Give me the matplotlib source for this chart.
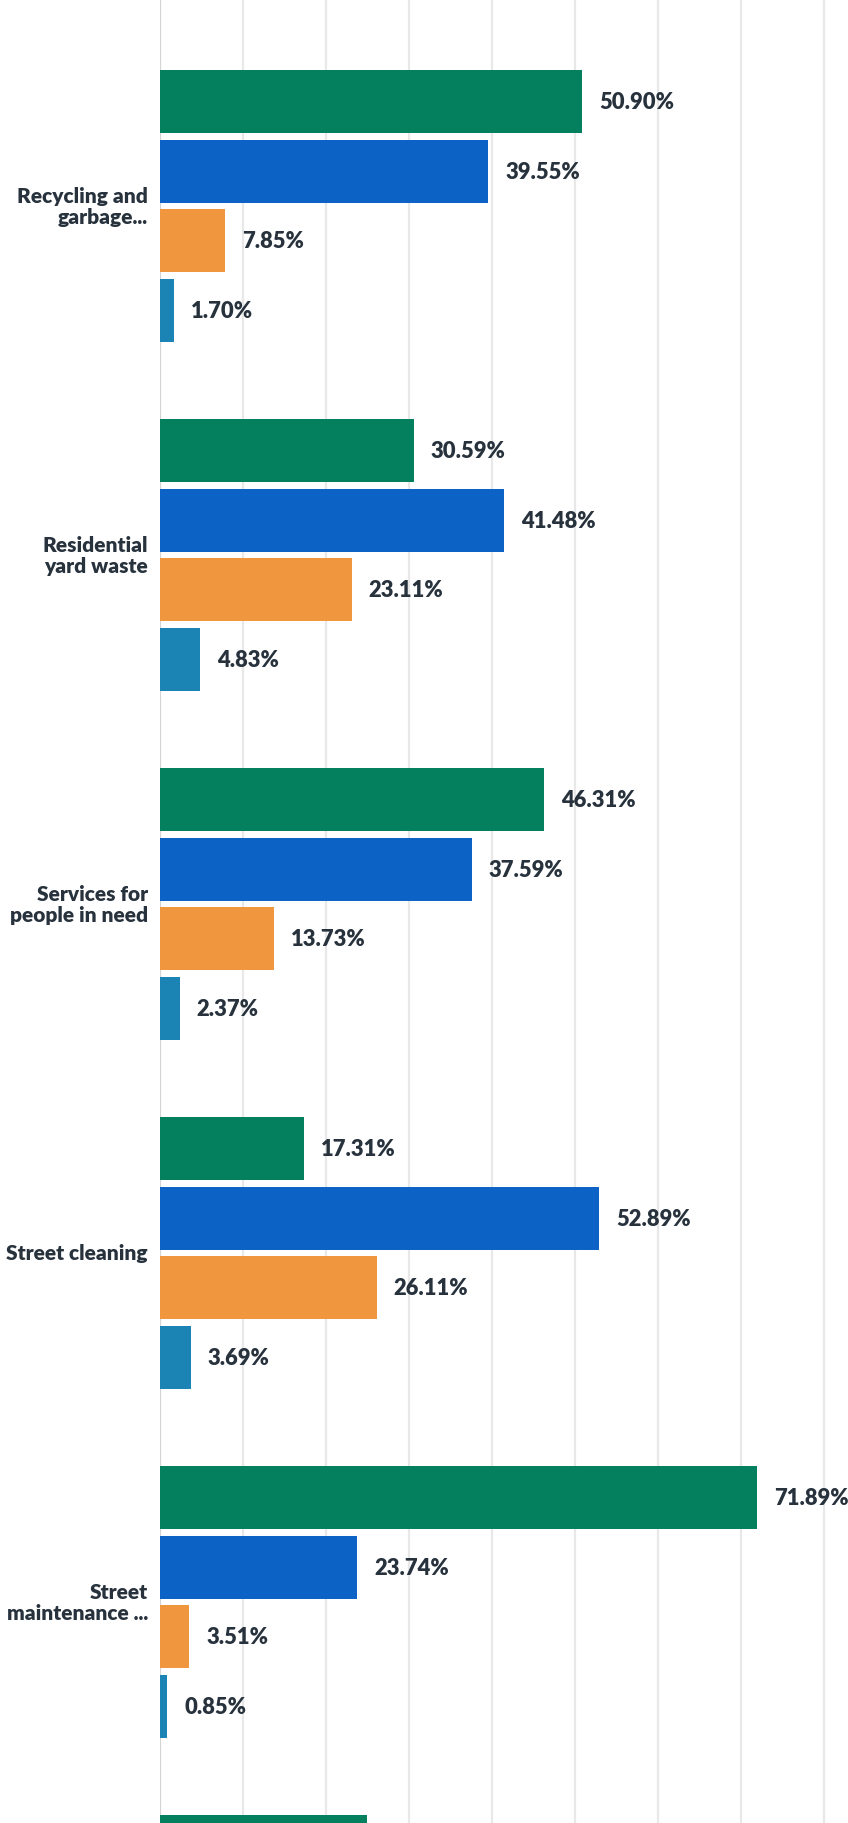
import matplotlib
matplotlib.use("Agg")
import matplotlib.pyplot as plt
import numpy as np

# Survey results: share of responses per rating, by service
categories = [
    "Recycling and\ngarbage...",
    "Residential\nyard waste",
    "Services for\npeople in need",
    "Street cleaning",
    "Street\nmaintenance ...",
    "",
]
very_satisfied = [50.90, 30.59, 46.31, 17.31, 71.89, 24.90]
satisfied = [39.55, 41.48, 37.59, 52.89, 23.74]
dissatisfied = [7.85, 23.11, 13.73, 26.11, 3.51]
very_dissatisfied = [1.70, 4.83, 2.37, 3.69, 0.85]
x_ticks = [0, 10, 20, 30, 40, 50, 60, 70, 80]

series = [very_satisfied, satisfied, dissatisfied, very_dissatisfied]
colors = ["#05805f", "#0d62c6", "#f0963f", "#1c84b4"]
offsets = [-0.3, -0.1, 0.1, 0.3]
bar_h = 0.18
text_color = "#27323d"

W, H, DPI = 848, 1824, 100
fig = plt.figure(figsize=(W / DPI, H / DPI), dpi=DPI)
fig.patch.set_facecolor("white")

left_px = 160
ax = fig.add_axes([left_px / W, 0, 1 - left_px / W, 1])
px_per_unit = 8.3
ax.set_xlim(0, (W - left_px) / px_per_unit)
group_px = 349.0
first_center_px = 207.0
y_bottom = (H - first_center_px) / group_px
ax.set_ylim(y_bottom, -first_center_px / group_px)

for xv in x_ticks:
    ax.axvline(xv, color="#d4d4d4" if xv == 0 else "#e8e8e8",
               lw=1.6, zorder=0)

font = "Lato"
weight = "heavy"
label_gap_pt = 17 * 72 / DPI
for vals, col, off in zip(series, colors, offsets):
    ys = np.arange(len(vals)) + off
    ax.barh(ys, vals, height=bar_h, color=col, zorder=2)
    for y, v in zip(ys, vals):
        if y > y_bottom:
            continue
        ax.annotate(f"{v:.2f}%", xy=(v, y), xytext=(label_gap_pt, 0),
                    textcoords="offset points", ha="left", va="center",
                    fontsize=15.8, fontweight=weight, family=font,
                    color=text_color, annotation_clip=False)

for i, name in enumerate(categories):
    if not name:
        continue
    ax.annotate(name, xy=(0, i), xytext=(-12 * 72 / DPI, 0),
                textcoords="offset points", ha="right", va="center",
                fontsize=15, fontweight=weight, family=font,
                color=text_color, linespacing=1.15,
                annotation_clip=False)

ax.set_xticks([])
ax.set_yticks([])
for s in ax.spines.values():
    s.set_visible(False)
ax.set_facecolor("white")

fig.savefig("out.png", dpi=DPI, facecolor="white")
